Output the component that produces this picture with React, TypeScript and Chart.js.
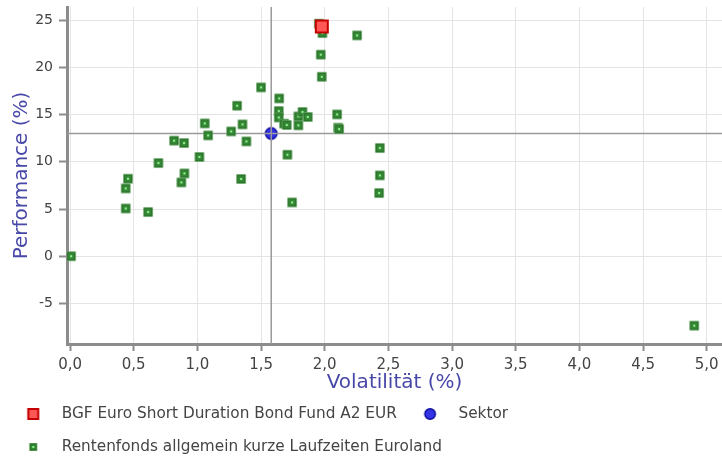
import React, { useEffect, useRef } from 'react';
import { Chart, registerables } from 'chart.js';

Chart.register(...registerables);

const fundName = 'BGF Euro Short Duration Bond Fund A2 EUR';
const sectorName = 'Sektor';
const peerName = 'Rentenfonds allgemein kurze Laufzeiten Euroland';
const xTitle = 'Volatilität (%)';
const yTitle = 'Performance (%)';

const fundVol = [1.977];
const fundPerf = [24.34];
const sectorVol = [1.58];
const sectorPerf = [13.0];

const peerVol = [
  0.008, 0.437, 0.455, 0.437, 0.613, 0.694, 0.817, 0.895, 0.874, 0.898,
  1.016, 1.058, 1.084, 1.265, 1.312, 1.354, 1.343, 1.385, 1.5, 1.642,
  1.639, 1.639, 1.681, 1.702, 1.707, 1.744, 1.793, 1.825, 1.867, 1.793,
  1.954, 1.982, 1.969, 1.977, 2.254, 2.097, 2.105, 2.113, 2.433, 2.433,
  2.427, 4.902,
];
const peerPerf = [
  0.0, 7.18, 8.21, 5.06, 4.68, 9.87, 12.24, 11.99, 7.82, 8.77,
  10.51, 14.07, 12.8, 13.22, 15.94, 13.96, 8.18, 12.16, 17.88, 16.72,
  15.38, 14.7, 14.04, 13.9, 10.75, 5.7, 14.81, 15.28, 14.75, 13.86,
  24.63, 23.64, 21.35, 19.01, 23.39, 15.02, 13.61, 13.47, 11.46, 8.56,
  6.69, -7.36,
];

const xMin = -0.024;
const xMax = 5.12;
const yMin = -9.3;
const yMax = 26.4;
const xStep = 0.5;
const yStep = 5;

const FONT = "'DejaVu Sans', Verdana, sans-serif";
const TITLE_COLOR = '#4848a8';
const TEXT_COLOR = '#444444';

function makeMarker(kind: string, size: number, dx: number): HTMLCanvasElement {
  const c = document.createElement('canvas');
  const W = 24;
  c.width = W;
  c.height = W;
  const ctx = c.getContext('2d')!;
  const cx = W / 2 + dx;
  const cy = W / 2;
  if (kind === 'green') {
    const s = size;
    ctx.fillStyle = '#6fae6f';
    ctx.fillRect(cx - s / 2 - 0.5, cy - s / 2 - 0.5, s + 1, s + 1);
    ctx.fillStyle = '#2c762c';
    ctx.fillRect(cx - s / 2, cy - s / 2, s, s);
    ctx.fillStyle = '#378c37';
    ctx.fillRect(cx - s / 2 + 1.5, cy - s / 2 + 1.5, s - 3, s - 3);
    ctx.fillStyle = '#8ef08e';
    ctx.fillRect(cx - 1, cy - 1, 2, 2);
  } else if (kind === 'red') {
    const s = size;
    ctx.fillStyle = '#c40000';
    ctx.fillRect(cx - s / 2, cy - s / 2, s, s);
    ctx.fillStyle = '#ff5656';
    ctx.fillRect(cx - s / 2 + 2, cy - s / 2 + 2, s - 4, s - 4);
  } else {
    ctx.beginPath();
    ctx.arc(cx, cy, size / 2 - 0.75, 0, Math.PI * 2);
    ctx.fillStyle = '#3434e6';
    ctx.fill();
    ctx.lineWidth = 1.5;
    ctx.strokeStyle = '#0a0a9e';
    ctx.stroke();
  }
  return c;
}

export default function App() {
  const ref = useRef<HTMLCanvasElement | null>(null);

  useEffect(() => {
    if (!ref.current) return;
    const greenPt = makeMarker('green', 8.5, 0);
    const redPt = makeMarker('red', 14, 0);
    const bluePt = makeMarker('blue', 13, 0);
    const legendShift = -2.6;
    const greenLg = makeMarker('green', 7, legendShift);
    const redLg = makeMarker('red', 12, legendShift);
    const blueLg = makeMarker('blue', 12, legendShift);

    const peers = peerVol.map((x, i) => ({ x, y: peerPerf[i] }));
    const fund = fundVol.map((x, i) => ({ x, y: fundPerf[i] }));
    const sector = sectorVol.map((x, i) => ({ x, y: sectorPerf[i] }));
    const vLine = [
      { x: sectorVol[0], y: yMin },
      { x: sectorVol[0], y: yMax },
    ];
    const hLine = [
      { x: xMin, y: sectorPerf[0] },
      { x: xMax, y: sectorPerf[0] },
    ];

    const legendFont = 15.3;
    const legendPad = 33 - legendFont;

    const chart = new Chart(ref.current, {
      type: 'scatter',
      data: {
        datasets: [
          { label: fundName, data: fund, pointStyle: redPt as any, order: 0, pointRadius: 7 },
          { label: sectorName, data: sector, pointStyle: bluePt as any, order: 3, pointRadius: 7 },
          { label: peerName, data: peers, pointStyle: greenPt as any, order: 1, pointRadius: 5, clip: 0 } as any,
          {
            label: 'v', data: vLine, showLine: true, pointRadius: 0,
            borderColor: '#9a9a9a', borderWidth: 1.5, order: 2,
          } as any,
          {
            label: 'h', data: hLine, showLine: true, pointRadius: 0,
            borderColor: '#9a9a9a', borderWidth: 1.5, order: 2,
          } as any,
        ],
      },
      options: {
        animation: false,
        responsive: false,
        events: [],
        layout: { autoPadding: false, padding: { top: 7, left: 0, right: 0, bottom: -7.65 } },
        plugins: {
          tooltip: { enabled: false },
          legend: {
            position: 'bottom',
            align: 'start',
            labels: {
              usePointStyle: true,
              pointStyleWidth: 36.35,
              padding: legendPad,
              color: TEXT_COLOR,
              font: { family: FONT, size: legendFont },
              generateLabels: () => [
                { text: fundName, pointStyle: redLg as any, fillStyle: 'transparent', strokeStyle: 'transparent', lineWidth: 0, hidden: false, datasetIndex: 0, fontColor: TEXT_COLOR },
                { text: sectorName, pointStyle: blueLg as any, fillStyle: 'transparent', strokeStyle: 'transparent', lineWidth: 0, hidden: false, datasetIndex: 1, fontColor: TEXT_COLOR },
                { text: peerName, pointStyle: greenLg as any, fillStyle: 'transparent', strokeStyle: 'transparent', lineWidth: 0, hidden: false, datasetIndex: 2, fontColor: TEXT_COLOR },
              ],
            },
          },
        },
        scales: {
          x: {
            type: 'linear',
            min: xMin,
            max: xMax,
            afterFit: (s: any) => {
              s.height = 44.65;
              s.paddingRight = 0;
              s.paddingLeft = 0;
            },
            ticks: {
              stepSize: xStep,
              includeBounds: false,
              color: TEXT_COLOR,
              padding: 5,
              font: { family: FONT, size: 15 },
              callback: (v: any) => Number(v).toFixed(1).replace('.', ','),
            },
            grid: { color: '#e4e4e4', lineWidth: 1, tickColor: '#8c8c8c', tickWidth: 2, tickLength: 7 },
            border: { color: '#8c8c8c', width: 3 },
            title: {
              display: true,
              text: xTitle,
              color: TITLE_COLOR,
              font: { family: FONT, size: 20, lineHeight: 1.2 },
              padding: { top: 0, bottom: -5.85 },
            },
          },
          y: {
            type: 'linear',
            min: yMin,
            max: yMax,
            afterFit: (s: any) => {
              s.width = 67;
              s.paddingTop = 0;
              s.paddingBottom = 0;
            },
            ticks: {
              stepSize: yStep,
              includeBounds: false,
              color: TEXT_COLOR,
              padding: 6,
              font: { family: FONT, size: 14 },
              callback: (v: any) => String(v),
            },
            grid: { color: '#e4e4e4', lineWidth: 1, tickColor: '#8c8c8c', tickWidth: 2, tickLength: 8 },
            border: { color: '#8c8c8c', width: 3 },
            title: {
              display: true,
              text: yTitle,
              color: TITLE_COLOR,
              font: { family: FONT, size: 20, lineHeight: 1.2 },
              padding: { top: 10, bottom: 0 },
            },
          },
        },
      },
    });
    return () => chart.destroy();
  }, []);

  return (
    <div style={{ position: 'absolute', left: 0, top: 0, width: 722, height: 457, background: '#fff' }}>
      <canvas ref={ref} width={722} height={457} style={{ display: 'block' }} />
    </div>
  );
}
